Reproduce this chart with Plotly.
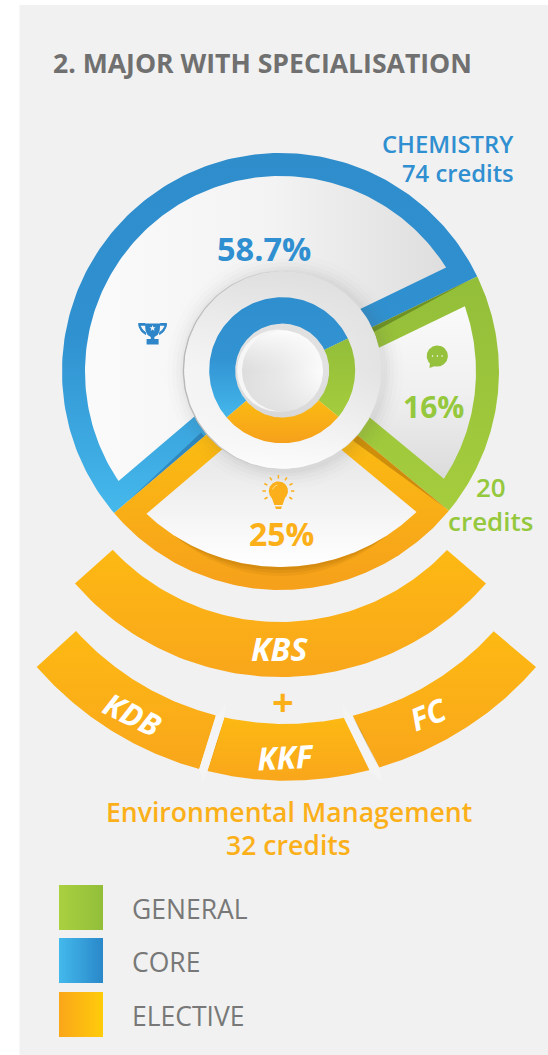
import numpy as np
import plotly.graph_objects as go

# ---------- data ----------
categories = ["CORE", "GENERAL", "ELECTIVE"]
credits = [74, 20, 32]
share_labels = ["58.7%", "16%", "25%"]
sector_span_deg = [194.6, 65.4, 100.0]      # drawn angular width of each sector
major_label = "CHEMISTRY"
elective_label = "Environmental Management"
elective_credits = 32
elective_parts = ["KBS", "KDB", "KKF", "FC"]
title_text = "2. MAJOR WITH SPECIALISATION"

# ---------- geometry and style ----------
W, H = 548, 1055
FIRST_START = 229.6                        # clockwise from 12 o'clock
CX, CY = 280.5, 371.5
R_OUT, R_IN, SPOKE = 218.5, 195.5, 21.5
PX, PY = 282.2, 370.2
FONT = "Open Sans"
BLUE, GREEN, ORANGE = "#2F8FD0", "#95C83D", "#FBB01A"
GREY = "#6F706F"

fig = go.Figure()


def fill(x, y, c=None, grad=None, start=None, stop=None, kind="vertical"):
    kw = dict(x=list(x), y=list(y), mode="lines", line=dict(width=0), fill="toself",
              hoverinfo="skip", showlegend=False)
    if grad:
        kw["fillgradient"] = dict(type=kind, colorscale=[[i / (len(grad) - 1), g] for i, g in enumerate(grad)],
                                  start=start, stop=stop)
    else:
        kw["fillcolor"] = c
    fig.add_trace(go.Scatter(**kw))


def pol(cx, cy, r, a):
    a = np.radians(a)
    return cx + r * np.sin(a), cy - r * np.cos(a)


def sector(a0, a1, r=R_OUT, cx=CX, cy=CY):
    t = np.linspace(a0, a1, 160)
    x, y = pol(cx, cy, r, t)
    return np.r_[cx, x, cx], np.r_[cy, y, cy]


def annular(a0, a1, r0, r1, cx, cy):
    t = np.linspace(a0, a1, 120)
    x1, y1 = pol(cx, cy, r1, t)
    x0, y0 = pol(cx, cy, r0, t[::-1])
    return np.r_[x1, x0, x1[0]], np.r_[y1, y0, y1[0]]


def inset_wedge(a0, a1):
    """Sector interior: inset from both spokes by the spoke width."""
    da = np.degrees(np.arcsin(SPOKE / R_IN))
    t = np.linspace(a0 + da, a1 - da, 160)
    ax, ay = pol(CX, CY, R_IN, t)
    def along(angle, sgn, rr):
        ux, uy = pol(0, 0, 1, angle)
        nx, ny = pol(0, 0, 1, angle + 90 * sgn)
        return CX + rr * ux + SPOKE * nx, CY + rr * uy + SPOKE * ny
    sx, sy = along(a0, 1, 80)
    ex, ey = along(a1, -1, 80)
    return np.r_[sx, ax, ex, sx], np.r_[sy, ay, ey, sy]


def circle(cx, cy, r, **kw):
    x, y = pol(cx, cy, r, np.linspace(0, 360, 181))
    fill(x, y, **kw)


def spoke_shadow(angle, side, r0, r1, w, c):
    a = pol(CX, CY, r0, angle)
    b = pol(CX, CY, r1, angle)
    nx, ny = pol(0, 0, w, angle + 90 * side)
    fill([a[0], b[0], a[0] + nx, a[0]], [a[1], b[1], a[1] + ny, a[1]], c=c)


def lower_arc(cx, cy, r, x0, x1, n=80):
    x = np.linspace(x0, x1, n)
    return x, cy + np.sqrt(r ** 2 - (x - cx) ** 2)


def band(co, ci, xo, xi, grad=("#FDB913", "#F9A61B")):
    ox, oy = lower_arc(*co, *xo)
    ix, iy = lower_arc(*ci, *xi)
    xs = np.r_[ox, ix[::-1], ox[0]]
    ys = np.r_[oy, iy[::-1], oy[0]]
    fill(xs, ys, grad=list(grad), start=float(ys.min()), stop=float(ys.max()))


# sector boundaries from the spans
starts = FIRST_START + np.r_[0, np.cumsum(sector_span_deg)[:-1]]
ends = starts + np.array(sector_span_deg)

ring_grads = {
    "CORE": (["#2F8DCC", "#3091D0", "#45B9EC"], 153, 515),
    "GENERAL": (["#93BE39", "#A5CD3D"], 279, 512),
    "ELECTIVE": (["#FBBB12", "#F6A01B"], 440, 590),
}
wedge_grads = {
    "CORE": (["#FAFAFA", "#F3F3F3", "#DFDEDE"], 100, 445, "horizontal"),
    "GENERAL": (["#FAFAFA", "#F0F0F0", "#DCDBDB"], 305, 480, "vertical"),
    "ELECTIVE": (["#EBEBEB", "#FFFFFF"], 470, 565, "vertical"),
}

for name, a0, a1 in zip(categories, starts, ends):
    x, y = sector(a0, a1)
    g, s0, s1 = ring_grads[name]
    fill(x, y, grad=g, start=s0, stop=s1)

# strips of shade where one sector overlaps the next
spoke_shadow(ends[0], 1, 100, 212, 5, "rgba(55,80,10,0.42)")
spoke_shadow(ends[1], 1, 100, 215, 7, "rgba(140,80,0,0.40)")
spoke_shadow(starts[0], 1, 100, 200, 5, "rgba(15,55,105,0.30)")

for name, a0, a1 in zip(categories, starts, ends):
    x, y = inset_wedge(a0, a1)
    g, s0, s1, kind = wedge_grads[name]
    fill(x, y, grad=g, start=s0, stop=s1, kind=kind)

# darker inner edge of the elective ring, around its lowest point
for grow, alpha in [(9, 0.10), (6, 0.12), (3, 0.14)]:
    t = np.linspace(147, 213, 70)
    rr = R_IN + grow * np.sin(np.radians((t - 147) / 66 * 180))
    xo, yo = pol(CX, CY, rr, t)
    xi, yi = pol(CX, CY, R_IN, t[::-1])
    fill(np.r_[xo, xi], np.r_[yo, yi], c=f"rgba(150,90,0,{alpha})")

# shadow around the centre plate
for r, alpha in [(118, 0.012), (113, 0.018), (109, 0.022), (105, 0.03), (102, 0.04)]:
    circle(PX + 3, PY + 1, r, c=f"rgba(90,90,90,{alpha})")

# centre plate
circle(PX, PY, 99.5, grad=["#B8B8B8", "#D8D8D8", "#DEDEDE"], start=183, stop=382, kind="horizontal")
circle(PX + 0.5, PY, 98.5, grad=["#FAFAFA", "#F1F1F1", "#E0DFDF"], start=185, stop=381, kind="horizontal")
circle(PX + 0.5, PY, 98.5, grad=["rgba(222,221,221,0.9)", "rgba(235,235,235,0.35)", "rgba(252,252,252,0.95)"],
       start=272, stop=468)

# inner donut repeats the three sectors
for name, a0, a1 in zip(categories, starts, ends):
    x, y = annular(a0, a1, 46, 73, PX, PY)
    g, s0, s1 = ring_grads[name]
    s = {"CORE": (297, 420), "GENERAL": (340, 420), "ELECTIVE": (400, 443)}[name]
    fill(x, y, grad=g if name != "CORE" else ["#2F8ECE", "#3293D3", "#45B9EC"], start=s[0], stop=s[1])

# centre knob
circle(PX, PY + 0.4, 47, grad=["#E0E0E0", "#E2E2E2", "#D8D8D8"], start=323, stop=418)
circle(PX - 4, PY + 0.4, 41, c="rgba(248,248,248,0.9)")
circle(PX + 0.3, PY + 0.8, 40.5, grad=["#DADADA", "#E8E8E8", "#FDFDFD"], start=242, stop=322, kind="horizontal")
circle(PX + 0.3, PY + 0.8, 40.5, grad=["rgba(255,255,255,0.85)", "rgba(240,240,240,0.1)", "rgba(221,221,221,0.6)"],
       start=331, stop=411)

# elective bands
band((280.5, 404.4, 272.6), (280.0, 392.4, 229.6), (75, 486), (112.7, 447))
row_o, row_i = (286.4, 449.7, 331.0), (285.0, 442.8, 281.2)

# lower bands with light separators between them
band(row_o, row_i, (36.7, 199.3), (76, 216))
band(row_o, row_i, (207.3, 370), (224.3, 344.3))
band(row_o, row_i, (379.3, 536), (352.7, 493.7))
for xs, ys in [([226, 224.3, 207.3, 203, 199.3, 216], [705, 717.7, 771.3, 782, 768.7, 715.3]),
               ([342, 352.7, 379.3, 382, 370, 344.3], [705, 716, 768.7, 782, 771.3, 718.7])]:
    fill(xs + xs[:1], ys + ys[:1], c="#F4F4F4")
fill([224, 208, 217.5], [720, 770, 741], c="rgba(150,95,5,0.5)")
fill([353, 379, 361], [717, 768, 731], c="rgba(150,95,5,0.5)")

# ---------- icons ----------
TB = "#2E86C9"
bx = 152.6
fill([bx - 7.7, bx + 7.7, bx + 7, bx + 5, bx + 1.8, bx + 1.8, bx + 6, bx + 6, bx - 6, bx - 6, bx - 1.8, bx - 1.8, bx - 5, bx - 7, bx - 7.7],
     [323.5, 323.5, 331, 335, 337, 339, 339, 344.5, 344.5, 339, 339, 337, 335, 331, 323.5], c=TB)
for sgn in (-1, 1):
    hx = [bx + sgn * v for v in [7.5, 14, 13.4, 11, 7, 7, 10, 12, 12, 7.5]]
    hy = [323.5, 323.5, 327, 331.5, 334.5, 332.5, 330, 326.8, 325.2, 325.2]
    fig.add_trace(go.Scatter(x=hx, y=hy, mode="lines", line=dict(color=TB, width=1), fill="toself", fillcolor=TB,
                             hoverinfo="skip", showlegend=False))
st = np.arange(0, 361, 36)
sr = np.where(np.arange(len(st)) % 2 == 0, 3.2, 1.3)
sx, sy = pol(bx, 328.3, sr, st)
fill(sx, sy, c="#F4F6F8")

# chat bubble
circle(437.3, 356, 10.6, c="#95C13C")
fill([430, 435, 429.5, 430], [362, 366, 368, 362], c="#95C13C")
circle(432.5, 356, 0.9, c="#F0F5E0")
circle(437.3, 356, 0.9, c="#F0F5E0")
circle(442, 356, 0.9, c="#F0F5E0")

# bulb
LB = "#FBAF1A"
circle(278.4, 491, 9.6, c=LB)
fill([271.5, 285.3, 282.5, 274.3, 271.5], [497, 497, 505, 505, 497], c=LB)
fill([274.8, 282, 281, 276, 274.8], [506.5, 506.5, 509, 509, 506.5], c=LB)
for ang in [-90, -62, -32, 0, 32, 62, 90, 120, -120]:
    x0, y0 = pol(278.4, 491, 12.5, ang)
    x1, y1 = pol(278.4, 491, 16, ang)
    fig.add_trace(go.Scatter(x=[x0, x1], y=[y0, y1], mode="lines", line=dict(color=LB, width=1.5),
                             hoverinfo="skip", showlegend=False))
# highlight in the bulb
t = np.linspace(-75, -10, 20)
hx, hy = pol(278.4, 491, 6, t)
fig.add_trace(go.Scatter(x=hx, y=hy, mode="lines", line=dict(color="#FFE08A", width=1),
                         hoverinfo="skip", showlegend=False))

# ---------- legend swatches ----------
legend_order = ["GENERAL", "CORE", "ELECTIVE"]
swatch = {"GENERAL": (["#A9D03F", "#92BE3A"], 885, 930),
          "CORE": (["#43B9EC", "#2A88C9"], 938, 983),
          "ELECTIVE": (["#FAA61A", "#FFCC0A"], 992, 1037)}
for n in legend_order:
    g, y0, y1 = swatch[n]
    fill([59, 103, 103, 59, 59], [y0, y0, y1, y1, y0], grad=g, start=59, stop=103, kind="horizontal")

# ---------- text ----------
def txt(x, y, s, size, color, weight=600, anchor="center", italic=False, angle=0):
    fig.add_annotation(x=x, y=y, xref="x", yref="y", text=s, showarrow=False, xanchor=anchor, yanchor="middle",
                       textangle=angle, borderpad=0, align="right" if anchor == "right" else "center",
                       font=dict(family=FONT, size=size, color=color, weight=weight,
                                 style="italic" if italic else "normal"))


txt(51.5, 63, title_text, 26.6, GREY, 700, "left")
txt(515, 144, major_label, 23.8, BLUE, 600, "right")
txt(515, 173, f"{credits[0]} credits", 23.8, BLUE, 600, "right")
txt(264, 248.5, share_labels[0], 32.5, BLUE, 700)
txt(433.5, 406, share_labels[1], 30, GREEN, 700)
txt(281, 533, share_labels[2], 32, ORANGE, 700)
txt(491, 504, f"{credits[1]}<br>credits", 26, GREEN, 600)
txt(279, 648, elective_parts[0], 32, "white", 700, italic=True)
txt(132, 714, elective_parts[1], 31, "white", 700, italic=True, angle=26)
txt(286, 756, elective_parts[2], 31.5, "white", 700, italic=True, angle=-3)
txt(428, 714, elective_parts[3], 31, "white", 700, italic=True, angle=-22)
txt(283, 701, "+", 38, ORANGE, 700)
txt(288.5, 812, elective_label, 26.6, ORANGE, 600)
txt(288.5, 844.5, f"{elective_credits} credits", 26.6, ORANGE, 600)
for n in legend_order:
    y0 = swatch[n][1]
    txt(131, y0 + 24, n, 26.5, "#777877", 400, "left")

fig.update_layout(
    width=W, height=H, margin=dict(l=0, r=0, t=0, b=0, pad=0), paper_bgcolor="white", plot_bgcolor="white",
    showlegend=False, hovermode=False,
    xaxis=dict(range=[0, W], visible=False, fixedrange=True),
    yaxis=dict(range=[H, 0], visible=False, fixedrange=True),
    shapes=[dict(type="rect", xref="x", yref="y", x0=19.5, x1=W, y0=5, y1=H, fillcolor="#F1F1F1",
                 line=dict(width=0), layer="below")],
)
fig.write_html("out.html", config=dict(displayModeBar=False),
               post_script="document.body.style.margin='0';document.documentElement.style.overflow='hidden';")
